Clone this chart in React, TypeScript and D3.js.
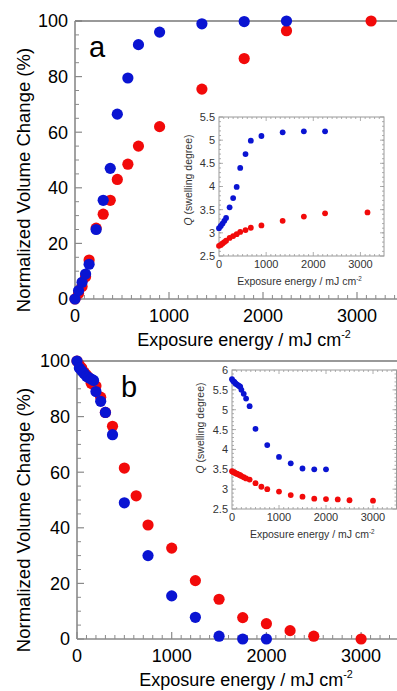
import React from 'react';
import * as d3 from 'd3';

// panel a: swelling (volume increase) vs exposure
const aDoseBlue = [0, 37.5, 75, 112.5, 150, 225, 300, 375, 450, 562.5, 675, 900, 1350, 1800, 2250];
const aVolBlue = [0, 3, 6, 9, 12.5, 25, 35.5, 47, 66.5, 79.5, 91.5, 96, 99, 99.8, 100];
const aDoseRed = [0, 37.5, 75, 112.5, 150, 225, 300, 375, 450, 562.5, 675, 900, 1350, 1800, 2250, 3150];
const aVolRed = [0, 2, 4.5, 8, 14, 25.5, 30.5, 35.5, 43, 48.5, 55, 62, 75.5, 86.5, 96.5, 100];
const aQBlue = [3.1, 3.15, 3.2, 3.26, 3.32, 3.55, 3.75, 3.99, 4.4, 4.7, 4.99, 5.09, 5.17, 5.19, 5.19];
const aQRed = [2.72, 2.74, 2.77, 2.8, 2.83, 2.89, 2.93, 2.97, 3.02, 3.06, 3.11, 3.16, 3.26, 3.35, 3.42, 3.44];

// panel b: shrinking vs exposure
const bDoseBlue = [0, 25, 50, 75, 100, 125, 150, 175, 200, 250, 300, 375, 500, 750, 1000, 1250, 1500, 1750, 2000];
const bVolBlue = [100, 97.5, 96.5, 95.5, 94.5, 94, 93.5, 93, 89, 85.5, 81.5, 73.5, 49, 30, 15.5, 7.8, 1, 0, 0];
const bQBlue = [5.77, 5.72, 5.7, 5.66, 5.64, 5.62, 5.6, 5.58, 5.5, 5.4, 5.28, 5.09, 4.52, 4.11, 3.81, 3.65, 3.52, 3.5, 3.5];
const bDoseRed = [0, 25, 50, 75, 100, 125, 150, 175, 200, 250, 300, 375, 500, 625, 750, 1000, 1250, 1500, 1750, 2000, 2250, 2500, 3000];
const bVolRed = [100, 98.5, 97.5, 96, 95, 94, 92, 91.5, 91, 87, 81.5, 76.5, 61.5, 51.5, 41, 32.7, 21, 14.3, 7.7, 5.5, 3, 1, 0];
const bQRed = [3.45, 3.43, 3.42, 3.4, 3.39, 3.38, 3.36, 3.35, 3.33, 3.3, 3.27, 3.24, 3.15, 3.06, 3.0, 2.94, 2.85, 2.81, 2.76, 2.75, 2.74, 2.72, 2.71];

const mainXTicks = [0, 1000, 2000, 3000];
const mainYTicks = [0, 20, 40, 60, 80, 100];
const insetXTicks = [0, 1000, 2000, 3000];
const insetYTicksA = [2.5, 3, 3.5, 4, 4.5, 5, 5.5];
const insetYTicksB = [2.5, 3, 3.5, 4, 4.5, 5, 5.5, 6];

const W = 397;
const H = 691;
const RED = '#f20a0a';
const BLUE = '#0a14d2';
const FONT = 'Liberation Sans, Arial, sans-serif';
const AXIS = '#8a8a8a';

type Series = { x: number[]; y: number[]; color: string };

function Title({ x, y, size, fill }: { x: number; y: number; size: number; fill: string }) {
    return (
        <text x={x} y={y} fontSize={size} fill={fill} fontFamily={FONT} textAnchor="middle">
            Exposure energy / mJ cm
            <tspan fontSize={size * 0.6} dy={-size * 0.42}>
                -2
            </tspan>
        </text>
    );
}

function MainPanel(props: { x0: number; pxPer1000: number; yTop: number; yBot: number; series: Series[]; label: string; labelX: number }) {
    const { x0, pxPer1000, yTop, yBot, series, label, labelX } = props;
    const x = d3.scaleLinear().domain([0, 3500]).range([x0, x0 + 3.5 * pxPer1000]);
    const y = d3.scaleLinear().domain([0, 100]).range([yBot, yTop]);
    const minorX = d3.range(0, 3600, 100).filter((v) => v % 1000 !== 0);
    const minorY = d3.range(0, 100, 5).filter((v) => v % 20 !== 0);
    return (
        <g>
            {minorX.map((v) => (
                <line key={'mx' + v} x1={x(v)} x2={x(v)} y1={yBot} y2={yBot - 4} stroke={AXIS} strokeWidth={1} />
            ))}
            {mainXTicks.map((v) => (
                <line key={'Mx' + v} x1={x(v)} x2={x(v)} y1={yBot} y2={yBot - 7} stroke={AXIS} strokeWidth={1.2} />
            ))}
            {minorY.map((v) => (
                <line key={'my' + v} x1={x0} x2={x0 + 4} y1={y(v)} y2={y(v)} stroke={AXIS} strokeWidth={1} />
            ))}
            {mainYTicks.map((v) => (
                <line key={'My' + v} x1={x0} x2={x0 + 7} y1={y(v)} y2={y(v)} stroke={AXIS} strokeWidth={1.2} />
            ))}
            <line x1={x0} x2={W} y1={yTop} y2={yTop} stroke="#777" strokeWidth={1.4} />
            <line x1={x0} x2={W} y1={yBot} y2={yBot} stroke={AXIS} strokeWidth={1.6} />
            <line x1={x0} x2={x0} y1={yTop} y2={yBot} stroke={AXIS} strokeWidth={1.6} />
            {mainXTicks.map((v) => (
                <text key={'lx' + v} x={x(v)} y={yBot + 23} fontSize={18} fontFamily={FONT} textAnchor="middle">
                    {v}
                </text>
            ))}
            {mainYTicks.map((v) => (
                <text key={'ly' + v} x={x0 - 7} y={y(v)} dy="0.36em" fontSize={18} fontFamily={FONT} textAnchor="end">
                    {v}
                </text>
            ))}
            <text
                transform={`translate(30,${(yTop + yBot) / 2 + 20}) rotate(-90)`}
                fontSize={18.5}
                fontFamily={FONT}
                textAnchor="middle"
            >
                Normalized Volume Change (%)
            </text>
            <Title x={x0 + 169} y={yBot + 47} size={18} fill="#000" />
            <text x={labelX} y={yTop + 36} fontSize={29} fontFamily={FONT}>
                {label}
            </text>
            {series.map((s, si) =>
                s.x.map((v, i) => <circle key={si + '-' + i} cx={x(v)} cy={y(s.y[i])} r={5.6} fill={s.color} />)
            )}
        </g>
    );
}

function Inset(props: { left: number; right: number; top: number; bottom: number; yMax: number; yTicks: number[]; series: Series[]; qx: number; qy: number }) {
    const { left, right, top, bottom, yMax, yTicks, series, qx, qy } = props;
    const x = d3.scaleLinear().domain([0, 3500]).range([left, right]);
    const y = d3.scaleLinear().domain([2.5, yMax]).range([bottom, top]);
    const minorX = d3.range(100, 3500, 100);
    const minorY = d3.range(2.6, yMax, 0.1);
    const c = '#9a9a9a';
    return (
        <g>
            <rect x={left} y={top} width={right - left} height={bottom - top} fill="#fff" stroke={c} strokeWidth={1} />
            {minorX.map((v) => (
                <g key={'ix' + v}>
                    <line x1={x(v)} x2={x(v)} y1={bottom} y2={bottom - (v % 1000 === 0 ? 4 : 2)} stroke={c} strokeWidth={0.8} />
                    <line x1={x(v)} x2={x(v)} y1={top} y2={top + (v % 1000 === 0 ? 4 : 2)} stroke={c} strokeWidth={0.8} />
                </g>
            ))}
            {minorY.map((v, i) => (
                <g key={'iy' + i}>
                    <line x1={left} x2={left + 2} y1={y(v)} y2={y(v)} stroke={c} strokeWidth={0.8} />
                    <line x1={right} x2={right - 2} y1={y(v)} y2={y(v)} stroke={c} strokeWidth={0.8} />
                </g>
            ))}
            {yTicks.map((v) => (
                <g key={'iY' + v}>
                    <line x1={left} x2={left + 4} y1={y(v)} y2={y(v)} stroke={c} strokeWidth={0.8} />
                    <line x1={right} x2={right - 4} y1={y(v)} y2={y(v)} stroke={c} strokeWidth={0.8} />
                    <text x={left - 4} y={y(v)} dy="0.36em" fontSize={11} fill="#333" fontFamily={FONT} textAnchor="end">
                        {v}
                    </text>
                </g>
            ))}
            {insetXTicks.map((v) => (
                <text key={'iX' + v} x={x(v)} y={bottom + 12} fontSize={11} fill="#333" fontFamily={FONT} textAnchor="middle">
                    {v}
                </text>
            ))}
            <Title x={(left + right) / 2 - 2} y={bottom + 29} size={10.5} fill="#333" />
            <text transform={`translate(${qx},${qy}) rotate(-90)`} fontSize={10.5} fill="#333" fontFamily={FONT} textAnchor="middle">
                <tspan fontStyle="italic">Q</tspan> (swelling degree)
            </text>
            {series.map((s, si) =>
                s.x.map((v, i) => <circle key={si + '-' + i} cx={x(v)} cy={y(s.y[i])} r={2.9} fill={s.color} />)
            )}
        </g>
    );
}

export default function App() {
    return (
        <svg width={W} height={H} style={{ position: 'absolute', left: 0, top: 0, background: '#fff' }}>
            <MainPanel
                x0={75}
                pxPer1000={94}
                yTop={21}
                yBot={299}
                label="a"
                labelX={89}
                series={[
                    { x: aDoseRed, y: aVolRed, color: RED },
                    { x: aDoseBlue, y: aVolBlue, color: BLUE },
                ]}
            />
            <Inset
                left={219}
                right={384}
                top={117}
                bottom={256}
                yMax={5.5}
                yTicks={insetYTicksA}
                qx={192}
                qy={180}
                series={[
                    { x: aDoseRed, y: aQRed, color: RED },
                    { x: aDoseBlue, y: aQBlue, color: BLUE },
                ]}
            />
            <MainPanel
                x0={77}
                pxPer1000={94.7}
                yTop={361}
                yBot={639}
                label="b"
                labelX={121}
                series={[
                    { x: bDoseRed, y: bVolRed, color: RED },
                    { x: bDoseBlue, y: bVolBlue, color: BLUE },
                ]}
            />
            <Inset
                left={232}
                right={396.5}
                top={370}
                bottom={509}
                yMax={6}
                yTicks={insetYTicksB}
                qx={204}
                qy={428}
                series={[
                    { x: bDoseRed, y: bQRed, color: RED },
                    { x: bDoseBlue, y: bQBlue, color: BLUE },
                ]}
            />
        </svg>
    );
}
